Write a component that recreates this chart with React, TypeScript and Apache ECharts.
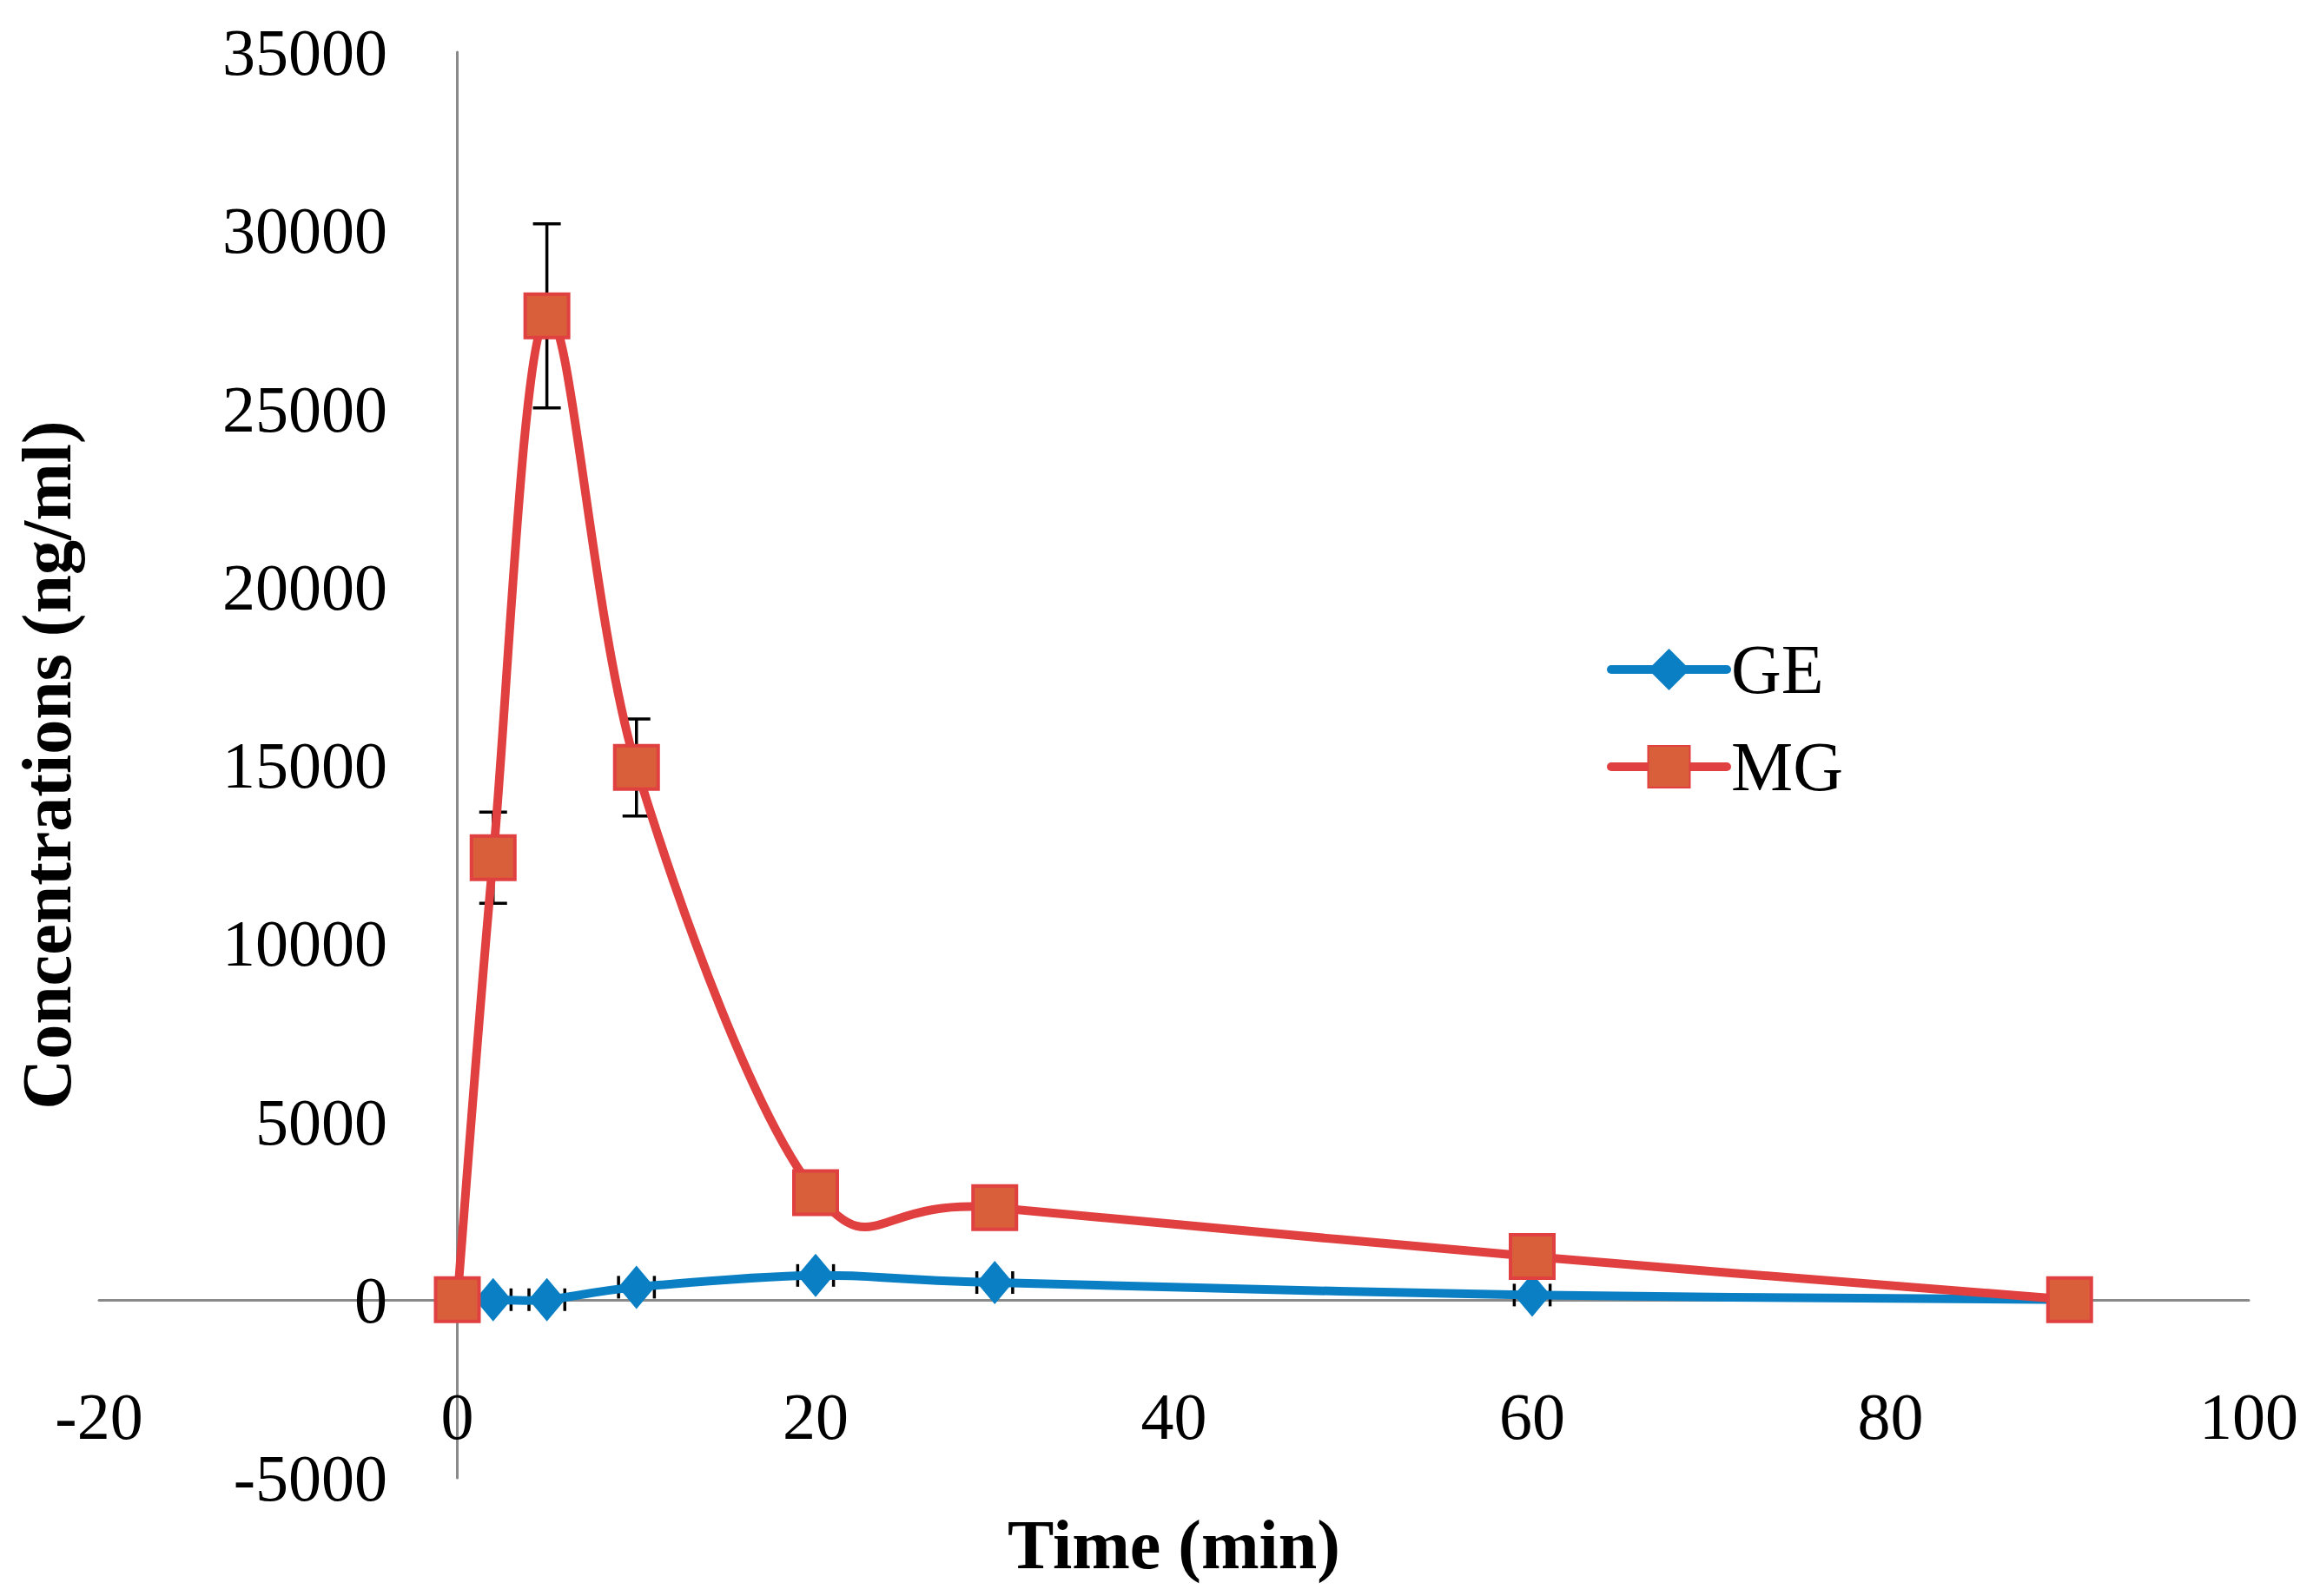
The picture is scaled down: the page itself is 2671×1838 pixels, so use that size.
import React, { useEffect, useRef } from "react";
import * as echarts from "echarts";

// sampling times (min)
const times = [0, 2, 5, 10, 20, 30, 60, 90];

// GE concentrations (ng/ml) and their error bars
const geValues = [0, 0, 0, 350, 680, 480, 130, 0];
const geYErr = [0, 0, 0, 0, 0, 0, 0, 0];
const geXErr = [1, 1, 1, 1, 1, 1, 1, 1];

// MG concentrations (ng/ml) and their error bars
const mgValues = [0, 12400, 27600, 14930, 3000, 2580, 1210, 0];
const mgYErr = [0, 1280, 2580, 1360, 0, 0, 0, 0];
const mgXErr = [0, 0, 0, 0, 0, 0, 0, 0];

const xTicks = [-20, 0, 20, 40, 60, 80, 100];
const yTicks = [-5000, 0, 5000, 10000, 15000, 20000, 25000, 30000, 35000];

const FONT = "Liberation Serif";
const BLUE = "#0A7FC4";
const RED = "#E04040";
const RED_FILL = "#D95F3B";

const pairs = (vals: number[]) => times.map((t, i) => [t, vals[i]]);
const errRows = (vals: number[], yErr: number[], xErr: number[]) =>
  times.map((t, i) => [t, vals[i], yErr[i], xErr[i]]);

const errorRenderer = (params: any, api: any) => {
  const x = api.value(0);
  const y = api.value(1);
  const ey = api.value(2);
  const ex = api.value(3);
  const style = { stroke: "#000", lineWidth: 3.5 };
  const children: any[] = [];
  if (ey > 0) {
    const top = api.coord([x, y + ey]);
    const bot = api.coord([x, y - ey]);
    children.push(
      { type: "line", shape: { x1: top[0], y1: top[1], x2: bot[0], y2: bot[1] }, style },
      { type: "line", shape: { x1: top[0] - 16, y1: top[1], x2: top[0] + 16, y2: top[1] }, style },
      { type: "line", shape: { x1: bot[0] - 16, y1: bot[1], x2: bot[0] + 16, y2: bot[1] }, style }
    );
  }
  if (ex > 0) {
    const l = api.coord([x - ex, y]);
    const r = api.coord([x + ex, y]);
    children.push(
      { type: "line", shape: { x1: l[0], y1: l[1], x2: r[0], y2: r[1] }, style },
      { type: "line", shape: { x1: l[0], y1: l[1] - 13, x2: l[0], y2: l[1] + 13 }, style },
      { type: "line", shape: { x1: r[0], y1: r[1] - 13, x2: r[0], y2: r[1] + 13 }, style }
    );
  }
  return { type: "group", children };
};

// Excel-like smoothed line: Catmull-Rom segments (tension 1/6) between data points
const curveRenderer = (color: string) => (params: any, api: any) => {
  const n = times.length;
  const i = params.dataIndexInside;
  if (i >= n - 1) return { type: "group", children: [] };
  const at = (k: number) => {
    const j = Math.max(0, Math.min(n - 1, k));
    return api.coord([api.value(0, j), api.value(1, j)]);
  };
  const p0 = at(i - 1);
  const p1 = at(i);
  const p2 = at(i + 1);
  const p3 = at(i + 2);
  return {
    type: "bezierCurve",
    shape: {
      x1: p1[0],
      y1: p1[1],
      x2: p2[0],
      y2: p2[1],
      cpx1: p1[0] + (p2[0] - p0[0]) / 6,
      cpy1: p1[1] + (p2[1] - p0[1]) / 6,
      cpx2: p2[0] - (p3[0] - p1[0]) / 6,
      cpy2: p2[1] - (p3[1] - p1[1]) / 6,
    },
    style: { stroke: color, lineWidth: 10, fill: "none", lineCap: "round" },
  };
};

const App = () => {
  const chartRef = useRef<HTMLDivElement>(null);

  useEffect(() => {
    if (!chartRef.current) return;
    const chart = echarts.init(chartRef.current, null, { renderer: "svg" });

    chart.setOption({
      animation: false,
      backgroundColor: "#fff",
      textStyle: { fontFamily: FONT },
      grid: {
        left: 114,
        right: 82,
        top: 60,
        bottom: 136,
        containLabel: false,
        outerBoundsMode: "none",
      },
      legend: {
        orient: "vertical",
        left: 1845,
        top: 726,
        itemWidth: 133,
        itemHeight: 60,
        itemGap: 32,
        data: [
          { name: "GE", lineStyle: { color: BLUE, width: 10, opacity: 1, cap: "round" } },
          { name: "MG", lineStyle: { color: RED, width: 10, opacity: 1, cap: "round" } },
        ],
        textStyle: { fontFamily: FONT, fontSize: 80, color: "#000" },
      },
      xAxis: {
        type: "value",
        min: xTicks[0],
        max: xTicks[xTicks.length - 1],
        interval: 20,
        name: "Time (min)",
        nameLocation: "middle",
        nameGap: 37,
        nameTextStyle: { fontFamily: FONT, fontSize: 80, fontWeight: "bold", color: "#000" },
        axisLine: { onZero: true, lineStyle: { color: "#8A8A8A", width: 3 } },
        axisTick: { show: false },
        splitLine: { show: false },
        axisLabel: {
          fontFamily: FONT,
          fontSize: 76,
          color: "#000",
          margin: -109,
          formatter: (v: number) => String(v),
        },
      },
      yAxis: {
        type: "value",
        min: yTicks[0],
        max: yTicks[yTicks.length - 1],
        interval: 5000,
        name: "Concentrations (ng/ml)",
        nameLocation: "middle",
        nameGap: 20,
        nameTextStyle: { fontFamily: FONT, fontSize: 80, fontWeight: "bold", color: "#000" },
        axisLine: { onZero: true, lineStyle: { color: "#8A8A8A", width: 3 } },
        axisTick: { show: false },
        splitLine: { show: false },
        axisLabel: {
          fontFamily: FONT,
          fontSize: 76,
          color: "#000",
          margin: -332,
          formatter: (v: number) => String(v),
        },
      },
      series: [
        {
          name: "GE err",
          type: "custom",
          z: 1,
          silent: true,
          renderItem: errorRenderer,
          data: errRows(geValues, geYErr, geXErr),
        },
        {
          name: "MG err",
          type: "custom",
          z: 1,
          silent: true,
          renderItem: errorRenderer,
          data: errRows(mgValues, mgYErr, mgXErr),
        },
        {
          name: "GE curve",
          type: "custom",
          z: 2,
          silent: true,
          renderItem: curveRenderer(BLUE),
          data: pairs(geValues),
        },
        {
          name: "GE",
          type: "line",
          z: 3,
          data: pairs(geValues),
          symbol: "diamond",
          symbolSize: [42, 50],
          lineStyle: { color: BLUE, width: 10, opacity: 0 },
          itemStyle: { color: BLUE, borderColor: BLUE, borderWidth: 0 },
        },
        {
          name: "MG curve",
          type: "custom",
          z: 4,
          silent: true,
          renderItem: curveRenderer(RED),
          data: pairs(mgValues),
        },
        {
          name: "MG",
          type: "line",
          z: 5,
          data: pairs(mgValues),
          symbol: "rect",
          symbolSize: 50,
          lineStyle: { color: RED, width: 10, opacity: 0 },
          itemStyle: { color: RED_FILL, borderColor: RED, borderWidth: 4 },
        },
      ],
    });

    return () => {
      chart.dispose();
    };
  }, []);

  return (
    <div
      ref={chartRef}
      style={{ position: "fixed", left: 0, top: 0, width: 2671, height: 1838 }}
    />
  );
};

export default App;
